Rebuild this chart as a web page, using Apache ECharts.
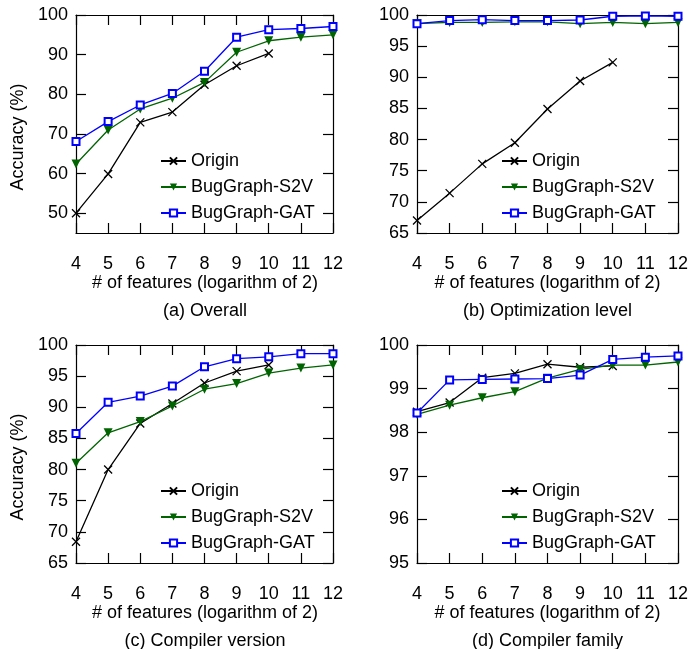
<!DOCTYPE html>
<html>
<head>
<meta charset="utf-8">
<script src="https://cdn.jsdelivr.net/npm/echarts@6/dist/echarts.min.js"></script>
<style>
html,body{margin:0;padding:0;background:#fff;overflow:hidden;width:691px;height:649px}
.p{position:absolute;width:346px;height:330px}
</style>
</head>
<body>
<div class="p" id="pa" style="left:0;top:0"></div>
<div class="p" id="pb" style="left:345px;top:0"></div>
<div class="p" id="pc" style="left:0;top:330px"></div>
<div class="p" id="pd" style="left:345px;top:330px"></div>
<script>
// ---- data ----
const xValues = [4, 5, 6, 7, 8, 9, 10, 11, 12];
const seriesNames = ['Origin', 'BugGraph-S2V', 'BugGraph-GAT'];

const overallOrigin = [50.0, 59.9, 72.9, 75.5, 82.4, 87.2, 90.3];
const overallS2V    = [62.4, 71.0, 76.3, 79.0, 83.0, 90.6, 93.5, 94.4, 95.0];
const overallGAT    = [68.1, 73.1, 77.3, 80.2, 85.8, 94.4, 96.3, 96.6, 97.1];

const optOrigin = [67.0, 71.4, 76.1, 79.5, 84.9, 89.4, 92.4];
const optS2V    = [98.6, 98.8, 98.8, 98.9, 98.9, 98.6, 98.8, 98.6, 98.8];
const optGAT    = [98.6, 99.1, 99.25, 99.1, 99.1, 99.2, 99.8, 99.85, 99.8];

const verOrigin = [68.4, 80.0, 87.4, 90.6, 93.9, 95.8, 96.8];
const verS2V    = [81.0, 85.9, 87.7, 90.2, 92.9, 93.8, 95.5, 96.3, 96.8];
const verGAT    = [85.8, 90.8, 91.8, 93.4, 96.5, 97.8, 98.1, 98.6, 98.6];

const famOrigin = [98.47, 98.68, 99.25, 99.35, 99.56, 99.49, 99.52];
const famS2V    = [98.41, 98.62, 98.79, 98.93, 99.24, 99.44, 99.54, 99.54, 99.61];
const famGAT    = [98.44, 99.20, 99.21, 99.22, 99.23, 99.31, 99.67, 99.72, 99.75];

const yTicksA = [50, 60, 70, 80, 90, 100];
const yTicksB = [65, 70, 75, 80, 85, 90, 95, 100];
const yTicksC = [65, 70, 75, 80, 85, 90, 95, 100];
const yTicksD = [95, 96, 97, 98, 99, 100];

const captions = ['(a) Overall', '(b) Optimization level', '(c) Compiler version', '(d) Compiler family'];
const xTitle = '# of features (logarithm of 2)';
const yTitle = 'Accuracy (%)';

// ---- layout ----
const FONT = 'Liberation Sans, Arial, Helvetica, sans-serif';
const FS = 18;
const panels = [
  {el: 'pa', left: 76, top: 15, width: 258, height: 218, yMin: 45, yMax: 100, ticks: yTicksA, data: [overallOrigin, overallS2V, overallGAT], yTitle: true},
  {el: 'pb', left: 72, top: 15, width: 261, height: 218, yMin: 65, yMax: 100, ticks: yTicksB, data: [optOrigin, optS2V, optGAT], yTitle: false},
  {el: 'pc', left: 76, top: 15, width: 258, height: 218, yMin: 65, yMax: 100, ticks: yTicksC, data: [verOrigin, verS2V, verGAT], yTitle: true},
  {el: 'pd', left: 72, top: 15, width: 261, height: 218, yMin: 95, yMax: 100, ticks: yTicksD, data: [famOrigin, famS2V, famGAT], yTitle: false}
];

const styles = [
  {color: '#000000', symbol: 'path://M0,0L10,10M10,0L0,10', symbolSize: 8, rotate: 0, borderWidth: 1.3},
  {color: '#006400', symbol: 'triangle', symbolSize: 9, rotate: 180, borderWidth: 0},
  {color: '#0000ff', symbol: 'emptyRect', symbolSize: 7, rotate: 0, borderWidth: 1.3}
];

function ls() { return {color: '#000', width: 1.2}; }

panels.forEach((p, gi) => {
  const cx = p.left + p.width / 2;
  const bottom = p.top + p.height;
  const graphic = [
    {type: 'text', x: cx, y: bottom + 50,
     style: {text: xTitle, fill: '#000', font: FS + 'px ' + FONT, textAlign: 'center', textVerticalAlign: 'middle'}},
    {type: 'text', x: cx, y: bottom + 78,
     style: {text: captions[gi], fill: '#000', font: FS + 'px ' + FONT, textAlign: 'center', textVerticalAlign: 'middle'}}
  ];
  if (p.yTitle) {
    graphic.push({type: 'text', x: 18, y: p.top + p.height / 2 + 13, rotation: Math.PI / 2,
      style: {text: yTitle, fill: '#000', font: FS + 'px ' + FONT, textAlign: 'center', textVerticalAlign: 'middle'}});
  }

  const option = {
    animation: false,
    backgroundColor: '#fff',
    grid: [{left: p.left, top: p.top, width: p.width, height: p.height}],
    xAxis: [
      {type: 'value', gridIndex: 0, min: 4, max: 12, interval: 1, position: 'bottom',
       axisLine: {show: true, onZero: false, lineStyle: ls()},
       axisTick: {show: true, inside: true, length: 10, lineStyle: ls()},
       axisLabel: {show: true, margin: 22, color: '#000', fontSize: FS, fontFamily: FONT},
       splitLine: {show: false}},
      {type: 'value', gridIndex: 0, min: 4, max: 12, interval: 1, position: 'top',
       axisLine: {show: true, onZero: false, lineStyle: ls()},
       axisTick: {show: true, inside: true, length: 10, lineStyle: ls()},
       axisLabel: {show: false},
       splitLine: {show: false}}
    ],
    yAxis: [
      {type: 'value', gridIndex: 0, min: p.yMin, max: p.yMax, position: 'left',
       axisLine: {show: true, onZero: false, lineStyle: ls()},
       axisTick: {show: true, inside: true, length: 10, lineStyle: ls(), customValues: p.ticks.slice()},
       axisLabel: {show: true, margin: 8, color: '#000', fontSize: FS, fontFamily: FONT, customValues: p.ticks.slice()},
       splitLine: {show: false}},
      {type: 'value', gridIndex: 0, min: p.yMin, max: p.yMax, position: 'right',
       axisLine: {show: true, onZero: false, lineStyle: ls()},
       axisTick: {show: true, inside: true, length: 10, lineStyle: ls(), customValues: p.ticks.slice()},
       axisLabel: {show: false, customValues: p.ticks.slice()},
       splitLine: {show: false}}
    ],
    series: p.data.map((arr, si) => {
      const s = styles[si];
      return {
        name: seriesNames[si], type: 'line', xAxisIndex: 0, yAxisIndex: 0,
        data: arr.map((v, i) => [xValues[i], v]),
        symbol: s.symbol, symbolSize: s.symbolSize, symbolRotate: s.rotate, showAllSymbol: true,
        lineStyle: {color: s.color, width: 1.3},
        itemStyle: {color: s.color, borderColor: s.color, borderWidth: s.borderWidth},
        z: 2 + si
      };
    }),
    legend: [{
      orient: 'vertical', left: p.left + 84, top: p.top + 137,
      itemWidth: 25, itemHeight: 9, itemGap: 8,
      data: seriesNames.slice(),
      textStyle: {color: '#000', fontSize: FS, fontFamily: FONT, lineHeight: 18},
      padding: 0, selectedMode: false
    }],
    graphic: graphic
  };
  const chart = echarts.init(document.getElementById(p.el), null, {renderer: 'canvas'});
  chart.setOption(option);
});
</script>
</body>
</html>
